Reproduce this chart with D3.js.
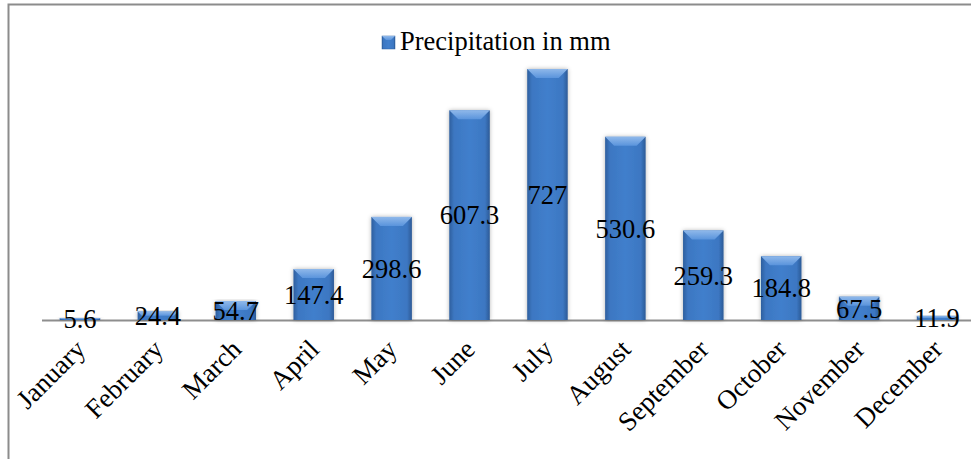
<!DOCTYPE html>
<html>
<head>
<meta charset="utf-8">
<script src="https://cdn.jsdelivr.net/npm/d3@7"></script>
<style>
  body { margin: 0; background: #fff; }
  #chart { width: 971px; height: 459px; }
</style>
</head>
<body>
<div id="chart"></div>
<script>
const months = ["January", "February", "March", "April", "May", "June",
    "July", "August", "September", "October", "November", "December"];
const precipitation = [5.6, 24.4, 54.7, 147.4, 298.6, 607.3, 727, 530.6, 259.3, 184.8, 67.5, 11.9];
const seriesName = "Precipitation in mm";

const W = 971, H = 459;
const baseY = 320;
const serif = "'Liberation Serif', 'Times New Roman', serif";

const svg = d3.select("#chart").append("svg")
    .attr("width", W)
    .attr("height", H);

const defs = svg.append("defs");
const grad = defs.append("linearGradient").attr("id", "barGrad")
    .attr("x1", "0%").attr("x2", "100%").attr("y1", "0%").attr("y2", "0%");
grad.append("stop").attr("offset", "0%").attr("stop-color", "#2e5f9e");
grad.append("stop").attr("offset", "12%").attr("stop-color", "#3c77c2");
grad.append("stop").attr("offset", "50%").attr("stop-color", "#417fcc");
grad.append("stop").attr("offset", "88%").attr("stop-color", "#3c77c2");
grad.append("stop").attr("offset", "100%").attr("stop-color", "#2c5a96");

const topGrad = defs.append("linearGradient").attr("id", "topGrad")
    .attr("x1", "0%").attr("x2", "0%").attr("y1", "0%").attr("y2", "100%");
topGrad.append("stop").attr("offset", "0%").attr("stop-color", "#8fb8ea");
topGrad.append("stop").attr("offset", "100%").attr("stop-color", "#5a94dc");

const shadow = defs.append("filter").attr("id", "shadow")
    .attr("x", "-30%").attr("y", "-10%").attr("width", "160%").attr("height", "130%");
shadow.append("feDropShadow").attr("dx", 0).attr("dy", 0).attr("stdDeviation", 2)
    .attr("flood-color", "#000").attr("flood-opacity", 0.3);

// frame
svg.append("path")
    .attr("d", `M8.5,${H} L8.5,4.5 L${W},4.5`)
    .attr("fill", "none")
    .attr("stroke", "#8c8c8c")
    .attr("stroke-width", 2);

const x = d3.scaleBand()
    .domain(months)
    .range([41, 976])
    .paddingInner(0.48)
    .paddingOuter(0.24);

const y = d3.scaleLinear()
    .domain([0, 727])
    .range([baseY, 69]);

// baseline
svg.append("line")
    .attr("x1", 42).attr("x2", W)
    .attr("y1", baseY + 0.5).attr("y2", baseY + 0.5)
    .attr("stroke", "#8e8e8e")
    .attr("stroke-width", 2);

const bw = x.bandwidth();
const bars = svg.selectAll(".bar")
    .data(months.map((m, i) => ({ month: m, value: precipitation[i] })))
    .enter().append("g")
    .attr("class", "bar")
    .attr("transform", d => `translate(${x(d.month)},0)`);

bars.append("rect")
    .attr("x", 0)
    .attr("y", d => y(d.value))
    .attr("width", bw)
    .attr("height", d => baseY - y(d.value))
    .attr("fill", "url(#barGrad)")
    .attr("filter", "url(#shadow)");

// top bevel
bars.append("path")
    .attr("d", d => {
        const t = y(d.value);
        const h = Math.min(9, (baseY - t) / 2);
        return `M0,${t} L${bw},${t} L${bw - h},${t + h} L${h},${t + h} Z`;
    })
    .attr("fill", "url(#topGrad)");

// value labels
svg.selectAll(".val")
    .data(precipitation)
    .enter().append("text")
    .attr("class", "val")
    .attr("x", (d, i) => x(months[i]) + bw / 2)
    .attr("y", d => (y(d) + baseY) / 2)
    .attr("dy", "0.35em")
    .attr("text-anchor", "middle")
    .style("font-family", serif)
    .style("font-size", "26.5px")
    .attr("fill", "#000")
    .text(d => d);

// month labels
svg.selectAll(".month")
    .data(months)
    .enter().append("text")
    .attr("class", "month")
    .attr("transform", d => `translate(${x(d) + bw / 2 + 7},${baseY + 31}) rotate(-45)`)
    .attr("text-anchor", "end")
    .style("font-family", serif)
    .style("font-size", "27px")
    .attr("fill", "#000")
    .text(d => d);

// legend
const legend = svg.append("g").attr("transform", "translate(382,36)");
legend.append("rect")
    .attr("width", 13).attr("height", 13)
    .attr("fill", "url(#barGrad)")
    .attr("stroke", "#2e5f9e").attr("stroke-width", 0.5);
legend.append("path")
    .attr("d", "M0,0 L13,0 L9,4 L4,4 Z")
    .attr("fill", "url(#topGrad)");
legend.append("text")
    .attr("x", 18)
    .attr("y", 14)
    .style("font-family", serif)
    .style("font-size", "26.5px")
    .attr("fill", "#000")
    .text(seriesName);
</script>
</body>
</html>
